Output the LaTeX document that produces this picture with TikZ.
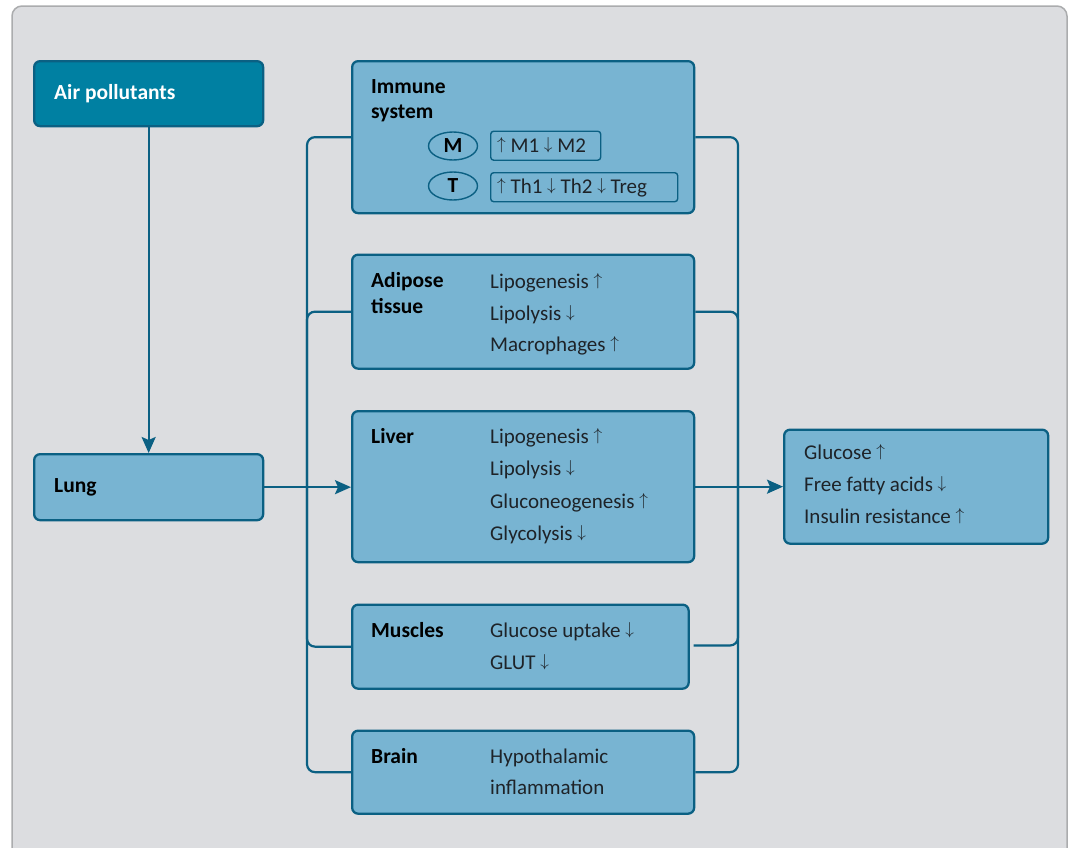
\documentclass[tikz,border=0pt]{standalone}
\usepackage{fontspec}
\setmainfont{Carlito}
\usetikzlibrary{arrows.meta,shapes.geometric}
\definecolor{bg}{HTML}{DCDDE0}
\definecolor{bgline}{HTML}{ABACAE}
\definecolor{dark}{HTML}{0B6083}
\definecolor{tealbox}{HTML}{0080A2}
\definecolor{lightbox}{HTML}{78B4D2}
\definecolor{txt}{HTML}{1E2328}
\newcommand{\UpA}{\raisebox{2.8pt}{\fontsize{17}{17}\selectfont$\uparrow$}}
\newcommand{\DnA}{\raisebox{2.8pt}{\fontsize{17}{17}\selectfont$\downarrow$}}
\begin{document}
\begin{tikzpicture}[x=1pt,y=-1pt,
  box/.style={draw=dark, line width=2.3pt, rounded corners=6pt, fill=lightbox, inner sep=0pt, anchor=north west},
  sbox/.style={draw=dark, line width=1.4pt, rounded corners=3pt, inner sep=0pt, anchor=north west, minimum height=29},
  ell/.style={draw=dark, line width=1.4pt, ellipse, minimum width=49, minimum height=28, inner sep=0pt, font=\bfseries\fontsize{21.5}{24}\selectfont, text=black},
  ttl/.style={anchor=base west, inner sep=0pt, font=\bfseries\fontsize{21.5}{24}\selectfont, text=black},
  itm/.style={anchor=base west, inner sep=0pt, font=\fontsize{21}{24}\selectfont, text=txt},
  wire/.style={draw=dark, line width=2.2pt, rounded corners=8pt},
  arr/.style={draw=dark, line width=2.2pt, -{Stealth[length=16pt,width=14pt,inset=3pt]}}]
\useasboundingbox (0,0) rectangle (1069,847);
\draw[bgline, fill=bg, line width=1.5pt, rounded corners=10pt] (12,6) rectangle (1067,880);

% left column
\node[box, fill=tealbox, minimum width=229, minimum height=65] (air) at (33,60) {};
\node[ttl, text=white] (airt) at (54,99) {Air pollutants};
\node[box, minimum width=229, minimum height=66] (lung) at (33,453) {};
\node[ttl] (lungt) at (54,492) {Lung};

% immune system
\node[box, minimum width=342, minimum height=152] (imm) at (351,60) {};
\node[ttl] (immt1) at (371,93) {Immune};
\node[ttl] (immt2) at (371,118.5) {system};
\node[ell] (m) at (453,146) {M};
\node[ell] (t) at (453,186) {T};
\node[sbox, minimum width=110] (mbox) at (490,130.5) {};
\node[itm] (mtxt) at (497,152) {\UpA{} M1 \DnA{} M2};
\node[sbox, minimum width=187] (tbox) at (490,172) {};
\node[itm] (ttxt) at (497,193) {\UpA{} Th1 \DnA{} Th2 \DnA{} Treg};

% adipose
\node[box, minimum width=342, minimum height=114] (adi) at (351,253.5) {};
\node[ttl] (adit1) at (371,287) {Adipose};
\node[ttl] (adit2) at (371,313) {tissue};
\node[itm] (adi1) at (490,288) {Lipogenesis \UpA};
\node[itm] (adi2) at (490,320) {Lipolysis \DnA};
\node[itm] (adi3) at (490,351) {Macrophages \UpA};

% liver
\node[box, minimum width=342, minimum height=151] (liv) at (351,410) {};
\node[ttl] (livt) at (371,443) {Liver};
\node[itm] (liv1) at (490,443) {Lipogenesis \UpA};
\node[itm] (liv2) at (490,475) {Lipolysis \DnA};
\node[itm] (liv3) at (490,508) {Gluconeogenesis \UpA};
\node[itm] (liv4) at (490,540) {Glycolysis \DnA};

% muscles
\node[box, minimum width=336.5, minimum height=84] (mus) at (351,603.5) {};
\node[ttl] (must) at (371,637) {Muscles};
\node[itm] (mus1) at (490,637) {Glucose uptake \DnA};
\node[itm] (mus2) at (490,669) {GLUT \DnA};

% brain
\node[box, minimum width=342, minimum height=83] (bra) at (351,729.5) {};
\node[ttl] (brat) at (371,763) {Brain};
\node[itm] (bra1) at (490,763) {Hypothalamic};
\node[itm] (bra2) at (490,794.5) {inflammation};

% output
\node[box, minimum width=264, minimum height=114] (out) at (783,428.5) {};
\node[itm] (out1) at (804,459.5) {Glucose \UpA};
\node[itm] (out2) at (804,491.5) {Free fatty acids \DnA};
\node[itm] (out3) at (804,523.5) {Insulin resistance \UpA};

% connectors
\coordinate (lb) at (307,486);
\coordinate (rb) at (738,486);
\coordinate (musr) at (693.5,645.5);

\draw[arr] (air.south) -- (lung.north);
\draw[wire] (lb) |- (imm.west);
\draw[wire] (lb) |- (adi.west);
\draw[wire] (lb) |- (mus.west);
\draw[wire] (lb) |- (bra.west);
\draw[wire] (imm.east) -| (rb);
\draw[wire] (adi.east) -| (rb);
\draw[wire] (musr) -| (rb);
\draw[wire] (bra.east) -| (rb);
\draw[arr] (lung.east) -- (lung.east -| liv.west);
\draw[arr] (liv.east) -- (liv.east -| out.west);
\end{tikzpicture}
\end{document}
